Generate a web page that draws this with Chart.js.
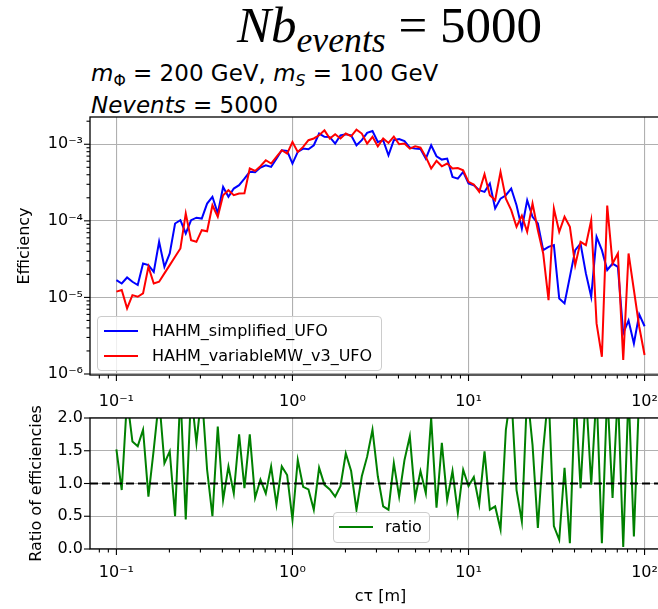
<!DOCTYPE html>
<html>
<head>
<meta charset="utf-8">
<script src="https://cdn.jsdelivr.net/npm/chart.js@4/dist/chart.umd.min.js"></script>
<style>
  html, body { margin: 0; padding: 0; background: #fff; overflow: hidden; }
  body { width: 658px; height: 609px; position: relative; font-family: "DejaVu Sans", sans-serif; color: #000; }
  .box { position: absolute; left: 0; }
  #topBox { top: 110px; width: 680px; height: 305px; }
  #botBox { top: 392px; width: 680px; height: 217px; }
  #bigTitle { position: absolute; left: 237px; top: -4px; font-family: "Liberation Serif", serif; font-size: 51px; white-space: nowrap; }
  #bigTitle sub { font-size: 70%; vertical-align: -0.28em; }
  #subTitle { position: absolute; left: 91px; top: 61px; font-size: 23px; line-height: 25px; white-space: nowrap; }
  #subTitle sub { font-size: 68%; vertical-align: -0.3em; }
  .legend { position: absolute; background: rgba(255,255,255,0.8); border: 1px solid #cccccc; border-radius: 4px; font-size: 16px; }
  .row { position: absolute; left: 0; height: 20px; line-height: 20px; white-space: nowrap; }
  .swatch { position: absolute; top: 9px; width: 34px; height: 2px; }
  .lbl { position: absolute; top: 0; }
</style>
</head>
<body>
<div id="bigTitle"><i>Nb</i><sub><i>events</i></sub> = 5000</div>
<div id="subTitle"><i>m</i><sub>Φ</sub> = 200 GeV, <i>m</i><sub><i>S</i></sub> = 100 GeV<br><i>Nevents</i> = 5000</div>

<div class="box" id="topBox"><canvas id="effChart" width="680" height="305"></canvas></div>
<div class="box" id="botBox"><canvas id="ratioChart" width="680" height="217"></canvas></div>

<div class="legend" style="left:97px; top:316px; width:283px; height:53px;">
  <div class="row" style="top:4px;"><div class="swatch" style="left:6px; background:#0000ff;"></div><div class="lbl" style="left:54px;">HAHM_simplified_UFO</div></div>
  <div class="row" style="top:29px;"><div class="swatch" style="left:6px; background:#ff0000;"></div><div class="lbl" style="left:54px;">HAHM_variableMW_v3_UFO</div></div>
</div>
<div class="legend" style="left:333px; top:512px; width:95px; height:29px;">
  <div class="row" style="top:4px;"><div class="swatch" style="left:5px; background:#008000;"></div><div class="lbl" style="left:51px;">ratio</div></div>
</div>

<script>
// c*tau values [m], 100 log-spaced points from 0.1 to 100
const ctau = [
  0.1000, 0.1072, 0.1150, 0.1233, 0.1322, 0.1417, 0.1520, 0.1630, 0.1748, 0.1874,
  0.2009, 0.2154, 0.2310, 0.2477, 0.2656, 0.2848, 0.3054, 0.3275, 0.3511, 0.3765,
  0.4037, 0.4329, 0.4642, 0.4977, 0.5337, 0.5722, 0.6136, 0.6579, 0.7055, 0.7565,
  0.8111, 0.8697, 0.9326, 1.000, 1.072, 1.150, 1.233, 1.322, 1.417, 1.520,
  1.630, 1.748, 1.874, 2.009, 2.154, 2.310, 2.477, 2.656, 2.848, 3.054,
  3.275, 3.511, 3.765, 4.037, 4.329, 4.642, 4.977, 5.337, 5.722, 6.136,
  6.579, 7.055, 7.565, 8.111, 8.697, 9.326, 10.00, 10.72, 11.50, 12.33,
  13.22, 14.17, 15.20, 16.30, 17.48, 18.74, 20.09, 21.54, 23.10, 24.77,
  26.56, 28.48, 30.54, 32.75, 35.11, 37.65, 40.37, 43.29, 46.42, 49.77,
  53.37, 57.22, 61.36, 65.79, 70.55, 75.65, 81.11, 86.97, 93.26, 100.0
];

// efficiency, HAHM_simplified_UFO
const effSimplified = [
  1.68e-5, 1.52e-5, 1.82e-5, 1.60e-5, 1.45e-5, 2.77e-5, 2.64e-5, 2.16e-5, 5.32e-5, 2.51e-5,
  3.75e-5, 9.23e-5, 1.02e-4, 6.84e-5, 1.02e-4, 1.10e-4, 1.07e-4, 1.68e-4, 2.06e-4, 1.25e-4,
  2.77e-4, 2.06e-4, 2.64e-4, 2.92e-4, 3.55e-4, 4.37e-4, 4.30e-4, 4.97e-4, 5.32e-4, 5.06e-4,
  6.50e-4, 8.36e-4, 8.20e-4, 5.60e-4, 7.94e-4, 8.77e-4, 8.60e-4, 9.70e-4, 1.38e-3, 1.25e-3,
  1.24e-3, 1.02e-3, 1.31e-3, 1.35e-3, 1.31e-3, 9.70e-4, 1.13e-3, 1.41e-3, 1.49e-3, 1.07e-3,
  1.13e-3, 7.19e-4, 1.13e-3, 1.17e-3, 1.10e-3, 9.06e-4, 8.77e-4, 8.70e-4, 6.50e-4, 9.70e-4,
  6.97e-4, 6.31e-4, 6.50e-4, 3.75e-4, 3.56e-4, 4.36e-4, 3.07e-4, 2.92e-4, 2.51e-4, 2.39e-4,
  3.07e-4, 1.45e-4, 1.95e-4, 2.16e-4, 2.64e-4, 1.60e-4, 7.94e-5, 1.86e-4, 1.13e-4, 9.23e-5,
  4.14e-5, 4.58e-5, 4.82e-5, 9.70e-6, 8.36e-6, 1.86e-5, 4.14e-5, 5.06e-5, 2.06e-5, 1.02e-5,
  6.18e-5, 4.14e-5, 2.28e-5, 2.77e-5, 2.51e-5, 3.39e-6, 5.00e-6, 2.50e-6, 6.00e-6, 4.20e-6
];

// efficiency, HAHM_variableMW_v3_UFO
const effVariableMW = [
  1.19e-5, 1.25e-5, 7.19e-6, 1.07e-5, 1.02e-5, 1.13e-5, 2.51e-5, 1.52e-5, 1.60e-5, 2.06e-5,
  2.64e-5, 3.39e-5, 4.36e-5, 1.25e-4, 5.60e-5, 5.32e-5, 7.55e-5, 7.30e-5, 1.60e-4, 1.13e-4,
  2.16e-4, 2.51e-4, 2.16e-4, 2.28e-4, 2.29e-4, 4.82e-4, 4.49e-4, 5.16e-4, 6.18e-4, 5.60e-4,
  6.84e-4, 8.36e-4, 7.55e-4, 1.07e-3, 7.94e-4, 9.23e-4, 1.13e-3, 1.19e-3, 1.31e-3, 1.52e-3,
  1.19e-3, 1.35e-3, 1.19e-3, 1.38e-3, 1.27e-3, 1.55e-3, 1.38e-3, 1.02e-3, 1.25e-3, 9.42e-4,
  1.19e-3, 1.04e-3, 1.26e-3, 1.00e-3, 1.02e-3, 8.77e-4, 9.42e-4, 9.06e-4, 6.84e-4, 4.82e-4,
  6.07e-4, 5.16e-4, 5.60e-4, 4.82e-4, 4.90e-4, 4.58e-4, 3.23e-4, 2.98e-4, 2.39e-4, 4.06e-4,
  2.16e-4, 1.86e-4, 4.36e-4, 1.95e-4, 1.38e-4, 8.36e-5, 1.17e-4, 7.19e-5, 1.68e-4, 7.55e-5,
  3.75e-5, 9.23e-6, 1.45e-4, 7.19e-5, 1.13e-4, 8.36e-5, 2.64e-5, 5.32e-5, 4.82e-5, 1.02e-4,
  4.58e-6, 1.68e-6, 1.58e-4, 2.77e-5, 3.75e-5, 1.52e-6, 3.75e-5, 1.25e-5, 4.14e-6, 1.77e-6
];

// ratio of efficiencies
const ratio = [
  1.52, 0.90, 2.30, 1.64, 1.57, 1.82, 0.80, 1.52, 2.30, 1.31,
  1.49, 0.50, 2.40, 0.45, 2.40, 1.62, 2.40, 1.21, 0.50, 1.87,
  0.75, 1.26, 0.85, 1.75, 0.93, 1.75, 0.78, 1.06, 0.85, 1.26,
  0.68, 1.26, 1.13, 0.45, 1.36, 0.95, 0.91, 0.60, 1.24, 0.98,
  0.91, 0.80, 0.96, 1.46, 1.19, 0.60, 1.11, 1.41, 1.82, 1.11,
  0.65, 0.60, 1.31, 0.80, 1.36, 1.72, 0.78, 1.19, 0.85, 2.00,
  0.63, 1.62, 0.75, 1.19, 0.55, 1.21, 0.96, 1.10, 0.68, 1.49,
  0.60, 0.65, 0.30, 1.82, 2.40, 0.90, 0.42, 2.40, 1.59, 0.32,
  1.52, 2.40, 0.35, 0.14, 1.24, 0.09, 2.40, 0.93, 2.40, 0.98,
  2.40, 0.09, 2.40, 0.78, 2.40, 0.03, 2.40, 0.19, 2.40, 2.40
];

const refLevel = 1.0;
const xRange = [0.0708, 141.3];
const effRange = [9.7e-7, 2.27e-3];
const ratioRange = [0, 2];

const FONT = { family: "DejaVu Sans", size: 16 };
const GRID = "#b0b0b0";

const SUP = { "-": "\u207b", "0": "\u2070", "1": "\u00b9", "2": "\u00b2", "3": "\u00b3",
  "4": "\u2074", "5": "\u2075", "6": "\u2076", "7": "\u2077", "8": "\u2078", "9": "\u2079" };

function isDecade(v) {
  const l = Math.log10(v);
  return Math.abs(l - Math.round(l)) < 1e-6;
}

function powLabel(v) {
  if (!isDecade(v)) return "";
  const e = String(Math.round(Math.log10(v)));
  return "10" + e.split("").map(c => SUP[c]).join("");
}

// 1..9 x 10^k ticks inside the axis range, like matplotlib's log locator
function logTicks(scale) {
  const out = [];
  const lo = Math.floor(Math.log10(scale.min)), hi = Math.ceil(Math.log10(scale.max));
  for (let e = lo; e <= hi; e++) {
    for (let m = 1; m <= 9; m++) {
      const v = m * Math.pow(10, e);
      if (v >= scale.min && v <= scale.max) out.push({ value: v, major: m === 1 });
    }
  }
  scale.ticks = out;
}

// fixed axis size, no extra room for overhanging labels
function fixSize(prop, size) {
  return s => {
    s[prop] = size;
    s.paddingTop = 0; s.paddingBottom = 0; s.paddingLeft = 0; s.paddingRight = 0;
  };
}

// black frame on all four sides and matplotlib-like tick marks
const frameTicks = {
  id: "frameTicks",
  afterDraw(chart) {
    const { ctx, chartArea: a, scales } = chart;
    ctx.save();
    ctx.strokeStyle = "#000";
    ctx.lineWidth = 1.3;
    ctx.strokeRect(a.left, a.top, a.right - a.left, a.bottom - a.top);
    ctx.lineWidth = 1.1;
    for (const t of scales.x.ticks) {
      const px = scales.x.getPixelForValue(t.value);
      const len = isDecade(t.value) ? 6 : 3.5;
      ctx.beginPath();
      ctx.moveTo(px, a.bottom);
      ctx.lineTo(px, a.bottom + len);
      ctx.stroke();
    }
    const yLog = scales.y.type === "logarithmic";
    for (const t of scales.y.ticks) {
      const py = scales.y.getPixelForValue(t.value);
      const len = !yLog || isDecade(t.value) ? 6 : 3.5;
      ctx.beginPath();
      ctx.moveTo(a.left, py);
      ctx.lineTo(a.left - len, py);
      ctx.stroke();
    }
    ctx.restore();
  }
};

function xAxis(height, pad, title) {
  return {
    type: "logarithmic",
    min: xRange[0],
    max: xRange[1],
    afterBuildTicks: logTicks,
    afterFit: fixSize("height", height),
    border: { display: false },
    grid: {
      drawTicks: false,
      lineWidth: 1.1,
      color: c => (c.tick && isDecade(c.tick.value) ? GRID : "rgba(0,0,0,0)")
    },
    ticks: {
      autoSkip: false, maxRotation: 0, minRotation: 0, padding: pad,
      color: "#000", font: FONT,
      callback: v => powLabel(v)
    },
    title: title ? { display: true, text: title, color: "#000", font: FONT, padding: { top: 0, bottom: 3 } } : { display: false }
  };
}

const topChart = new Chart(document.getElementById("effChart"), {
  type: "line",
  data: {
    datasets: [
      {
        label: "HAHM_variableMW_v3_UFO",
        data: ctau.map((x, i) => ({ x: x, y: effVariableMW[i] })),
        borderColor: "#ff0000", borderWidth: 2, pointRadius: 0, tension: 0, order: 0
      },
      {
        label: "HAHM_simplified_UFO",
        data: ctau.map((x, i) => ({ x: x, y: effSimplified[i] })),
        borderColor: "#0000ff", borderWidth: 2, pointRadius: 0, tension: 0, order: 1
      }
    ]
  },
  options: {
    responsive: false,
    animation: false,
    devicePixelRatio: 1,
    events: [],
    layout: { padding: { top: 7, right: 9, left: 0, bottom: 0 } },
    plugins: { legend: { display: false }, tooltip: { enabled: false } },
    scales: {
      x: xAxis(40, 17, null),
      y: {
        type: "logarithmic",
        min: effRange[0],
        max: effRange[1],
        afterBuildTicks: logTicks,
        afterFit: fixSize("width", 90),
        border: { display: false },
        grid: {
          drawTicks: false,
          lineWidth: 1.1,
          color: c => (c.tick && isDecade(c.tick.value) ? GRID : "rgba(0,0,0,0)")
        },
        ticks: { autoSkip: false, padding: 7, color: "#000", font: FONT, callback: v => powLabel(v) },
        title: { display: true, text: "Efficiency", color: "#000", font: FONT, padding: { top: 15, bottom: 0 } }
      }
    }
  },
  plugins: [frameTicks]
});

const ratioChart = new Chart(document.getElementById("ratioChart"), {
  type: "line",
  data: {
    datasets: [
      {
        label: "unity",
        data: [{ x: xRange[0], y: refLevel }, { x: xRange[1], y: refLevel }],
        borderColor: "#000", borderWidth: 2, borderDash: [8, 4], pointRadius: 0, order: 0
      },
      {
        label: "ratio",
        data: ctau.map((x, i) => ({ x: x, y: ratio[i] })),
        borderColor: "#008000", borderWidth: 2, pointRadius: 0, tension: 0, order: 1
      }
    ]
  },
  options: {
    responsive: false,
    animation: false,
    devicePixelRatio: 1,
    events: [],
    layout: { padding: { top: 26, right: 9, left: 0, bottom: 0 } },
    plugins: { legend: { display: false }, tooltip: { enabled: false } },
    scales: {
      x: xAxis(60, 14, "c\u03c4 [m]"),
      y: {
        type: "linear",
        min: ratioRange[0],
        max: ratioRange[1],
        afterFit: fixSize("width", 90),
        border: { display: false },
        grid: { drawTicks: false, lineWidth: 1.1, color: GRID },
        ticks: { stepSize: 0.5, padding: 7, color: "#000", font: FONT, callback: v => v.toFixed(1) },
        title: { display: true, text: "Ratio of efficiencies", color: "#000", font: FONT, padding: { top: 27, bottom: 0 } }
      }
    }
  },
  plugins: [frameTicks]
});
</script>
</body>
</html>
